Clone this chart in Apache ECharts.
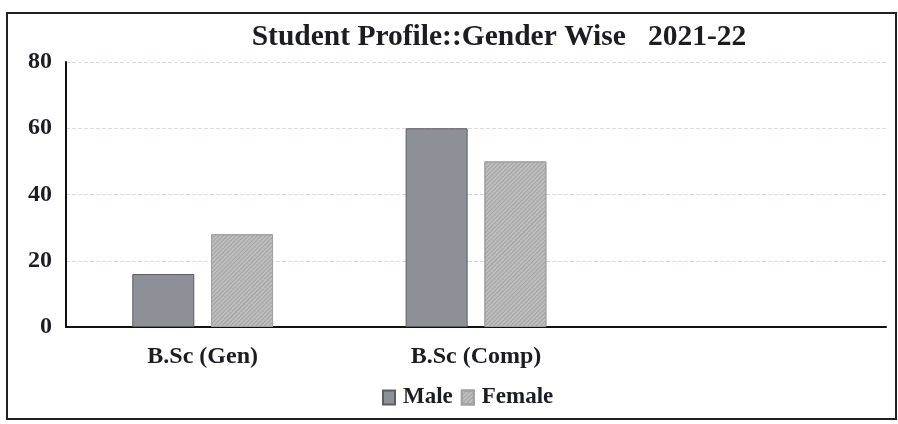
<!DOCTYPE html>
<html>
<head>
<meta charset="utf-8">
<script src="https://cdn.jsdelivr.net/npm/echarts@6/dist/echarts.min.js"></script>
<style>
  html, body { margin: 0; padding: 0; background: #fff; }
  #frame { position: absolute; left: 6px; top: 12px; width: 887px; height: 404px; border: 2px solid #222; }
  #chart { position: absolute; left: 0; top: 0; width: 898px; height: 424px; }
</style>
</head>
<body>
<div id="frame"></div>
<div id="chart"></div>
<script>
// data
const categories = ['B.Sc (Gen)', 'B.Sc (Comp)', ''];
const maleValues = [16, 60, null];
const femaleValues = [28, 50, null];
const yTicks = [0, 20, 40, 60, 80];

const serif = '"Liberation Serif", "DejaVu Serif", serif';

var myChart = echarts.init(document.getElementById('chart'));
let option = {
    animation: false,
    title: {
        text: 'Student Profile::Gender Wise   2021-22',
        left: 494,
        top: 17,
        textAlign: 'center',
        textStyle: { fontFamily: serif, fontSize: 29.5, fontWeight: 'bold', color: '#1c1c24' }
    },
    legend: {
        data: ['Male', 'Female'],
        left: 377,
        top: 381,
        itemWidth: 12,
        itemHeight: 14,
        itemGap: 8,
        icon: 'rect',
        textStyle: { fontFamily: serif, fontSize: 23, fontWeight: 'bold', color: '#1c1c24', padding: [0, 0, 0, 3] }
    },
    grid: { left: 66, right: 12, top: 62, bottom: 97 },
    xAxis: {
        type: 'category',
        data: categories,
        axisLine: { lineStyle: { color: '#111', width: 2 } },
        axisTick: { show: false },
        axisLabel: { fontFamily: serif, fontSize: 24, fontWeight: 'bold', color: '#1c1c24', margin: 18 }
    },
    yAxis: {
        type: 'value',
        min: yTicks[0],
        max: yTicks[yTicks.length - 1],
        interval: 20,
        axisLine: { show: true, lineStyle: { color: '#111', width: 2 } },
        axisTick: { show: false },
        axisLabel: { fontFamily: serif, fontSize: 24, fontWeight: 'bold', color: '#1c1c24', margin: 14 },
        splitLine: { lineStyle: { color: '#ecd4d8', type: 'dashed', width: 1 } }
    },
    series: [
        {
            name: 'Male',
            type: 'bar',
            data: maleValues,
            barWidth: 62,
            barGap: '27%',
            itemStyle: { color: '#8d9096', borderColor: '#5c5e63', borderWidth: 1 }
        },
        {
            name: 'Female',
            type: 'bar',
            data: femaleValues,
            barWidth: 62,
            itemStyle: {
                color: '#bebebe',
                borderColor: '#a2a2a2',
                borderWidth: 1,
                decal: {
                    symbol: 'rect',
                    color: 'rgba(110,110,110,0.35)',
                    dashArrayX: [1, 0],
                    dashArrayY: [1, 2],
                    rotation: -0.785
                }
            }
        }
    ]
};
myChart.setOption(option, true);
</script>
</body>
</html>
